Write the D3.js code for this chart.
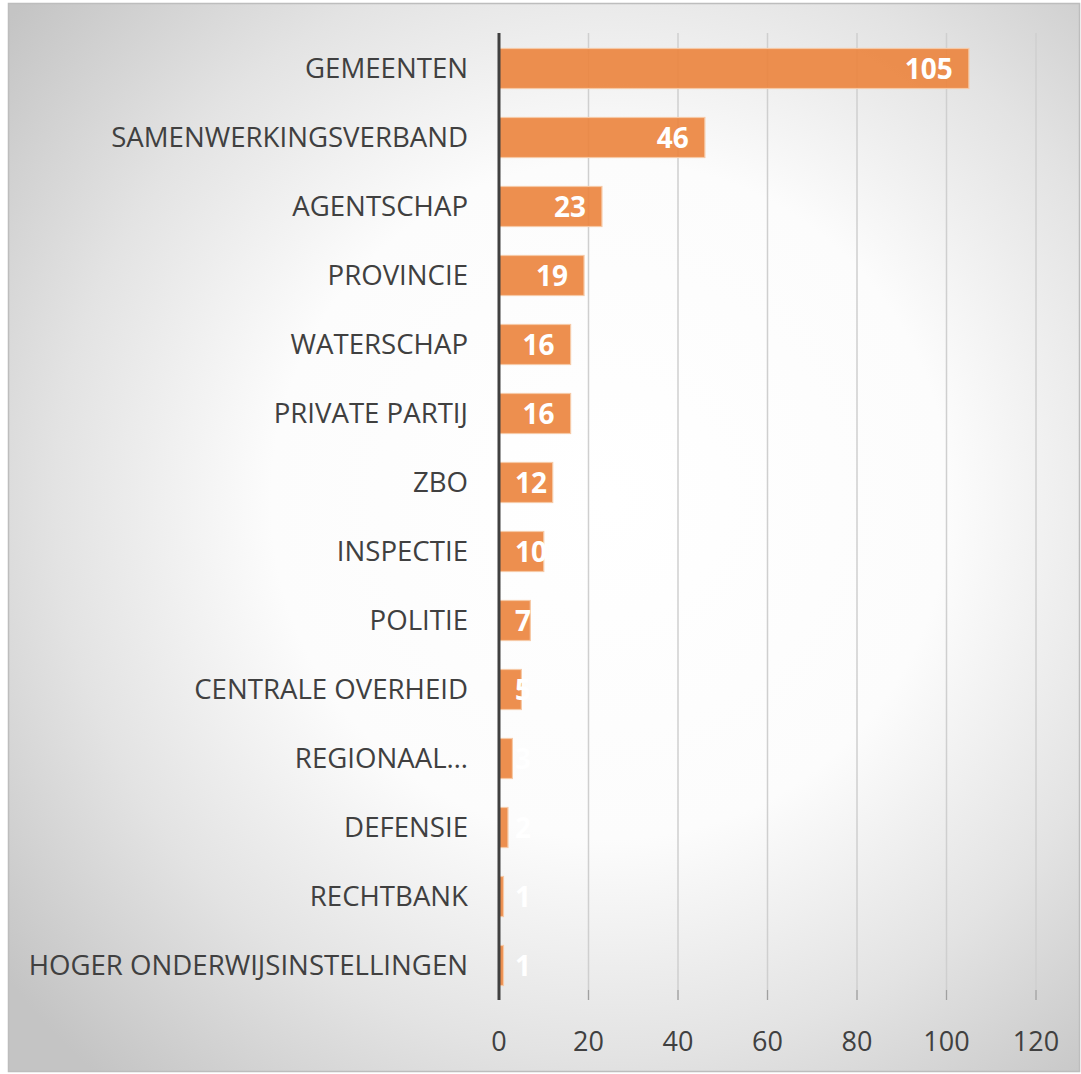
<!DOCTYPE html>
<html>
<head>
<meta charset="utf-8">
<script src="https://cdn.jsdelivr.net/npm/d3@7"></script>
<style>
  body { margin: 0; background: #fff; }
  svg text { font-family: "Open Sans", sans-serif; }
</style>
</head>
<body>
<div id="chart"></div>
<script>
// data
const categories = ['GEMEENTEN', 'SAMENWERKINGSVERBAND', 'AGENTSCHAP', 'PROVINCIE', 'WATERSCHAP',
  'PRIVATE PARTIJ', 'ZBO', 'INSPECTIE', 'POLITIE', 'CENTRALE OVERHEID', 'REGIONAAL…',
  'DEFENSIE', 'RECHTBANK', 'HOGER ONDERWIJSINSTELLINGEN'];
const values = [105, 46, 23, 19, 16, 16, 12, 10, 7, 5, 3, 2, 1, 1];
const ticks = [0, 20, 40, 60, 80, 100, 120];

const width = 1081, height = 1074;
const svg = d3.select('#chart').append('svg')
  .attr('width', width).attr('height', height);

const defs = svg.append('defs');
const grad = defs.append('radialGradient').attr('id', 'bg')
  .attr('gradientUnits', 'userSpaceOnUse')
  .attr('cx', 610).attr('cy', 500).attr('r', 770);
grad.append('stop').attr('offset', '0%').attr('stop-color', '#ffffff');
grad.append('stop').attr('offset', '44%').attr('stop-color', '#fcfcfc');
grad.append('stop').attr('offset', '72%').attr('stop-color', '#e3e3e3');
grad.append('stop').attr('offset', '100%').attr('stop-color', '#c4c4c4');

// frame
svg.append('rect')
  .attr('x', 8.5).attr('y', 3.5)
  .attr('width', width - 10).attr('height', height - 6)
  .attr('fill', 'url(#bg)')
  .attr('stroke', '#bdbdbd').attr('stroke-width', 1.5);

const x = d3.scaleLinear().domain([0, 120]).range([499, 1036]);
const y = d3.scaleBand().domain(categories).range([34, 1000]).paddingInner(0.42).paddingOuter(0.21);

// grid
svg.append('g').selectAll('line').data(ticks.slice(1)).join('line')
  .attr('x1', d => x(d)).attr('x2', d => x(d))
  .attr('y1', 33).attr('y2', 1000)
  .attr('stroke', '#cfcfcf').attr('stroke-width', 1.5);

// bars
svg.append('g').selectAll('rect').data(values).join('rect')
  .attr('x', x(0))
  .attr('y', (d, i) => y(categories[i]))
  .attr('width', d => x(d) - x(0))
  .attr('height', y.bandwidth())
  .attr('fill', '#eb8540').attr('fill-opacity', 0.92)
  .attr('stroke', '#f6c9a6').attr('stroke-width', 1.2);

// axis line
svg.append('line')
  .attr('x1', x(0)).attr('x2', x(0)).attr('y1', 33).attr('y2', 1000)
  .attr('stroke', '#404040').attr('stroke-width', 3);

// category labels
svg.append('g').selectAll('text').data(categories).join('text')
  .attr('x', 468)
  .attr('y', d => y(d) + y.bandwidth() / 2)
  .attr('dy', '0.35em')
  .attr('text-anchor', 'end')
  .attr('font-size', 27.6)
  .attr('fill', '#404040')
  .text(d => d);

// value labels (inside end, white bold)
const vl = svg.append('g').selectAll('text').data(values).join('text')
  .attr('y', (d, i) => y(categories[i]) + y.bandwidth() / 2)
  .attr('dy', '0.36em')
  .attr('font-size', 28)
  .attr('font-weight', 'bold')
  .attr('fill', '#ffffff')
  .text(d => d);
vl.each(function(d) {
  const w = this.getComputedTextLength();
  const left = Math.max(x(d) - 16 - w, 515);
  d3.select(this).attr('x', left);
});

// x axis ticks and labels
svg.append('g').selectAll('line').data(ticks.slice(1)).join('line')
  .attr('x1', d => x(d)).attr('x2', d => x(d))
  .attr('y1', 990).attr('y2', 1000)
  .attr('stroke', '#a0a0a0').attr('stroke-width', 1.2);
svg.append('g').selectAll('text').data(ticks).join('text')
  .attr('x', d => x(d)).attr('y', 1042)
  .attr('dy', '0.35em')
  .attr('text-anchor', 'middle')
  .attr('font-size', 27)
  .attr('fill', '#404040')
  .text(d => d);
</script>
</body>
</html>
